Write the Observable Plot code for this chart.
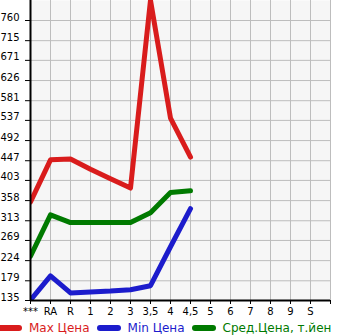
<!DOCTYPE html>
<html>
<head>
<meta charset="utf-8">
<script src="https://cdn.jsdelivr.net/npm/d3@7"></script>
<script src="https://cdn.jsdelivr.net/npm/@observablehq/plot@0.6"></script>
<style>
  html, body { margin: 0; padding: 0; background: #fff; }
  body { width: 345px; height: 335px; overflow: hidden; font-family: "DejaVu Sans", sans-serif; }
  #legend { display: flex; align-items: center; height: 15px; font-size: 12px; white-space: nowrap; margin-left: -2px; }
  .item { display: flex; align-items: center; margin-right: 7px; }
  .sw { width: 24px; height: 6px; border-radius: 3px; margin-right: 7px; }
</style>
</head>
<body>
<div id="chart"></div>
<div id="legend"></div>
<script>
const categories = ["***","RA","R","1","2","3","3,5","4","4,5","5","6","7","8","9","S"];
const yTicks = [135,179,224,269,313,358,403,447,492,537,581,626,671,715,760];
const maxPrice = [355, 449, 451, 428, 407, 386, 805, 542, 455];
const minPrice = [136, 190, 152, 154, 156, 159, 168, 255, 340];
const avgPrice = [234, 326, 309, 309, 309, 309, 331, 376, 380];
const seriesNames = ["Max Цена", "Min Цена", "Сред.Цена, т.йен"];
const seriesColors = ["#d91c1c", "#1c1ccc", "#007a00"];

const step = (yTicks[yTicks.length - 1] - yTicks[0]) / (yTicks.length - 1);
const yTop = yTicks[yTicks.length - 1] + step;
const nCat = categories.length;

const series = [maxPrice, minPrice, avgPrice];
const rows = [];
series.forEach((arr, s) => arr.forEach((v, i) => rows.push({i, v, s: seriesNames[s]})));

const chart = Plot.plot({
  width: 345,
  height: 320,
  marginLeft: 30,
  marginRight: 15,
  marginTop: 0,
  marginBottom: 20,
  style: {fontFamily: "DejaVu Sans", fontSize: "10px", color: "#000", background: "transparent"},
  x: {type: "linear", domain: [0, nCat], axis: null},
  y: {domain: [yTicks[0], yTop], axis: null},
  color: {domain: seriesNames, range: seriesColors},
  marks: [
    Plot.frame({fill: "#f6f6f6", stroke: null}),
    Plot.ruleX(d3.range(1, nCat + 1), {stroke: "#bdbdbd", strokeWidth: 1}),
    Plot.ruleY(yTicks.slice(1), {stroke: "#bdbdbd", strokeWidth: 1}),
    Plot.axisY(yTicks, {anchor: "left", label: null, tickSize: 5, tickPadding: 6, fontSize: 10, lineAnchor: "bottom", tickFormat: d => String(d), stroke: "#000"}),
    Plot.axisX(d3.range(0, nCat + 1), {anchor: "bottom", label: null, tickSize: 4, tickPadding: 3, fontSize: 10, tickFormat: i => categories[i] ?? "", stroke: "#000"}),
    Plot.line(rows, {x: "i", y: "v", z: "s", stroke: "s", strokeWidth: 5, strokeLinejoin: "round", strokeLinecap: "round", clip: true}),
    Plot.ruleX([0], {stroke: "#000", strokeWidth: 2}),
    Plot.ruleY([yTicks[0]], {stroke: "#000", strokeWidth: 2})
  ]
});
document.getElementById("chart").appendChild(chart);

const legend = document.getElementById("legend");
seriesNames.forEach((name, k) => {
  const item = document.createElement("div");
  item.className = "item";
  const sw = document.createElement("div");
  sw.className = "sw";
  sw.style.background = seriesColors[k];
  const t = document.createElement("span");
  t.textContent = name;
  t.style.color = seriesColors[k];
  item.appendChild(sw);
  item.appendChild(t);
  legend.appendChild(item);
});
</script>
</body>
</html>
